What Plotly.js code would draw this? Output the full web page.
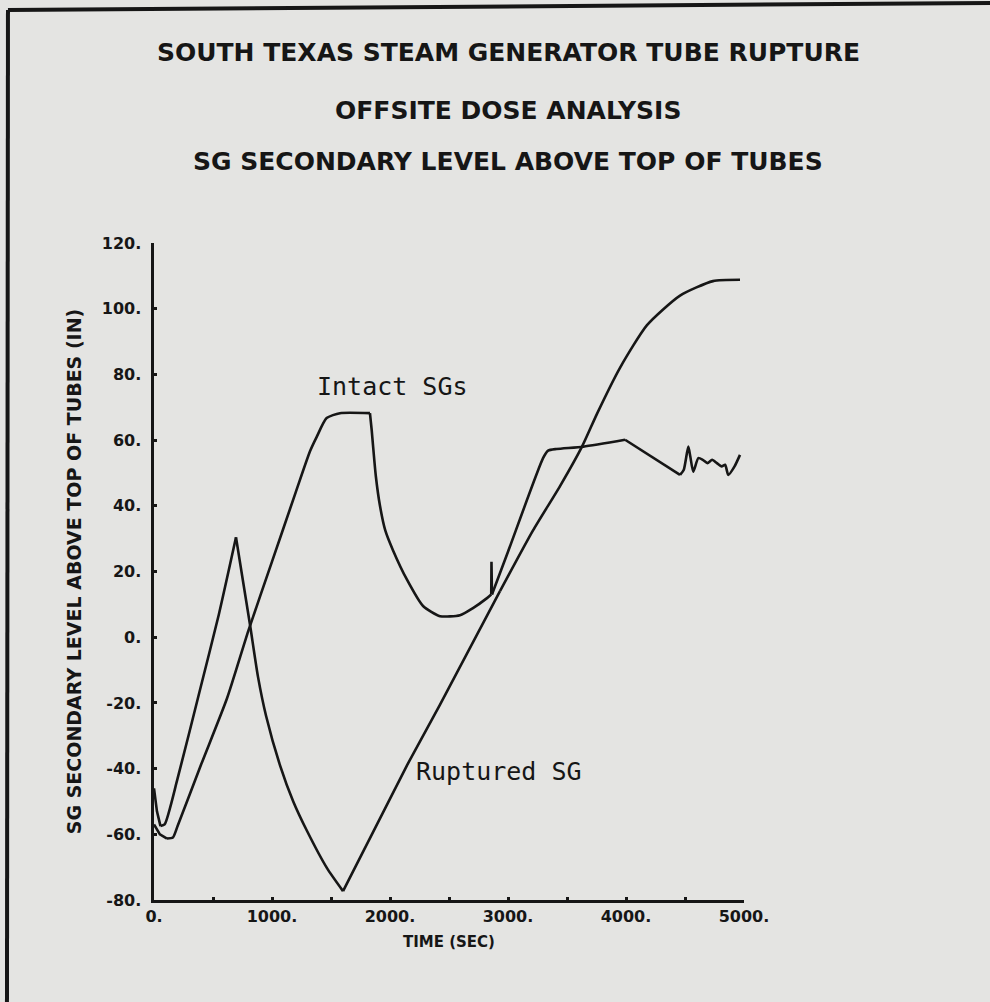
<!DOCTYPE html>
<html>
<head>
<meta charset="utf-8">
<script src="https://cdn.plot.ly/plotly-3.0.1.min.js"></script>
<style>
  html, body { margin: 0; padding: 0; background: #e4e4e2; }
  #chart { width: 990px; height: 1002px; }
</style>
</head>
<body>
<div id="chart"></div>
<script>
// ---- Data (time in sec, level in inches) ----
const rupturedTime = [0, 25, 55, 90, 200, 390, 550, 695, 750, 814, 881, 950, 1068, 1180, 1297, 1466, 1602,
  1856, 2144, 2424, 2700, 2932, 3212, 3441, 3627, 3754, 3949, 4178, 4458, 4737, 4966];
const rupturedLevel = [-46, -53, -57.5, -57, -43, -16, 7, 30.4, 18, 3.7, -12, -24, -39, -50, -59, -70.3, -77.3,
  -59.5, -39, -20.5, -1.5, 14, 32.5, 46, 58, 68, 82, 95, 104, 108.4, 108.8];

const intactTime = [0, 50, 110, 160, 200, 400, 619, 800, 1000, 1200, 1322, 1379, 1463, 1576, 1830,
  1845, 1856, 1880, 1915, 1960, 2025, 2144, 2280, 2424, 2593, 2700, 2822, 2858, 2860, 2864,
  3000, 3297, 3340, 3412, 3638, 3992, 4458, 4490, 4528, 4545, 4570, 4613, 4650, 4690, 4730, 4770, 4810, 4840, 4867, 4920, 4966];
const intactLevel = [-57, -60, -61.3, -61, -57.5, -38.7, -18.6, 2, 23, 44, 56.6, 61, 66.7, 68.2, 68.2,
  63, 58.4, 49, 40, 32.5, 26.5, 17.5, 9.5, 6.4, 6.7, 8.8, 11.9, 13, 23, 13,
  26, 54.5, 56.8, 57.3, 58, 60.1, 49.4, 51, 58, 55, 50.4, 54.5, 54, 53, 54, 53, 52, 52.5, 49.4, 52, 55.5];

const xTickVals = [0, 1000, 2000, 3000, 4000, 5000];
const xTickText = ["0.", "1000.", "2000.", "3000.", "4000.", "5000."];
const yTickVals = [-80, -60, -40, -20, 0, 20, 40, 60, 80, 100, 120];
const yTickText = ["-80.", "-60.", "-40.", "-20.", "0.", "20.", "40.", "60.", "80.", "100.", "120."];

const titleLines = ["SOUTH TEXAS STEAM GENERATOR TUBE RUPTURE",
                    "OFFSITE DOSE ANALYSIS",
                    "SG SECONDARY LEVEL ABOVE TOP OF TUBES"];
const xTitle = "TIME (SEC)";
const yTitle = "SG SECONDARY LEVEL ABOVE TOP OF TUBES (IN)";
const seriesNames = ["Ruptured SG", "Intact SGs"];

// Sharp corners of each trace (times where the pen changes direction abruptly)
const rupturedCorners = [0, 55, 695, 1602, 2932, 4966];
const rupturedShapes = ["linear", "spline", "spline", "linear", "spline"];
const intactCorners = [0, 110, 1830, 2858, 2864, 3992, 4458, 4966];
const intactShapes = ["linear", "spline", "spline", "linear", "spline", "linear", "spline"];

// ---- Plot ----
const ink = "#161616";
const blockFont = { family: "DejaVu Sans, sans-serif", weight: "bold", color: ink };

function pieces(t, v, corners, shapes, name) {
  const out = [];
  for (let k = 0; k < corners.length - 1; k++) {
    const i0 = t.indexOf(corners[k]), i1 = t.indexOf(corners[k + 1]);
    out.push({
      x: t.slice(i0, i1 + 1), y: v.slice(i0, i1 + 1), name: name, mode: "lines",
      line: { color: ink, width: 2.6, shape: shapes[k], smoothing: 0.6 },
      hoverinfo: "skip", showlegend: false
    });
  }
  return out;
}

const traces = pieces(rupturedTime, rupturedLevel, rupturedCorners, rupturedShapes, seriesNames[0])
  .concat(pieces(intactTime, intactLevel, intactCorners, intactShapes, seriesNames[1]));

const titleY = [1.2907, 1.2024, 1.1233];
const annotations = titleLines.map((t, i) => ({
  text: t, xref: "paper", yref: "paper", x: 0.6, y: titleY[i],
  xanchor: "center", yanchor: "middle", showarrow: false,
  font: Object.assign({}, blockFont, { size: 25 })
}));
annotations.push({
  text: seriesNames[1], xref: "x", yref: "y", x: 2017, y: 76.4,
  showarrow: false, xanchor: "center", yanchor: "middle",
  font: { family: "DejaVu Sans Mono, monospace", size: 25, color: ink }
});
annotations.push({
  text: seriesNames[0], xref: "x", yref: "y", x: 2924, y: -40.8,
  showarrow: false, xanchor: "center", yanchor: "middle",
  font: { family: "DejaVu Sans Mono, monospace", size: 25, color: ink }
});

const layout = {
  width: 990, height: 1002,
  margin: { l: 154, r: 246, t: 243, b: 102 },
  paper_bgcolor: "#e4e4e2",
  plot_bgcolor: "#e4e4e2",
  showlegend: false,
  xaxis: {
    range: [0, 5000], showgrid: false, zeroline: false,
    showline: true, linecolor: ink, linewidth: 3,
    tickmode: "array", tickvals: xTickVals, ticktext: xTickText,
    ticks: "inside", ticklen: 3, tickwidth: 3, tickcolor: ink,
    minor: { dtick: 500, ticks: "inside", ticklen: 3, tickwidth: 3, tickcolor: ink },
    tickfont: Object.assign({}, blockFont, { size: 16 }),
    title: { text: xTitle, font: Object.assign({}, blockFont, { size: 15 }), standoff: 12 },
    automargin: false, fixedrange: true
  },
  yaxis: {
    range: [-80, 120], showgrid: false, zeroline: false,
    showline: true, linecolor: ink, linewidth: 3.5,
    tickmode: "array", tickvals: yTickVals, ticktext: yTickText,
    ticks: "inside", ticklen: 3, tickwidth: 3, tickcolor: ink,
    ticklabelstandoff: 6,
    tickfont: Object.assign({}, blockFont, { size: 16 }),
    title: { text: yTitle, font: Object.assign({}, blockFont, { size: 19 }), standoff: 16 },
    automargin: false, fixedrange: true
  },
  annotations: annotations,
  shapes: [
    { type: "line", xref: "paper", yref: "paper", x0: -0.2475, y0: 1.3547, x1: 1.417, y1: 1.3653,
      line: { color: ink, width: 4 } },
    { type: "line", xref: "paper", yref: "paper", x0: -0.2475, y0: 1.3547, x1: -0.2492, y1: -0.16,
      line: { color: ink, width: 4 } }
  ]
};

Plotly.newPlot("chart", traces, layout, { staticPlot: true, displayModeBar: false });
</script>
</body>
</html>
